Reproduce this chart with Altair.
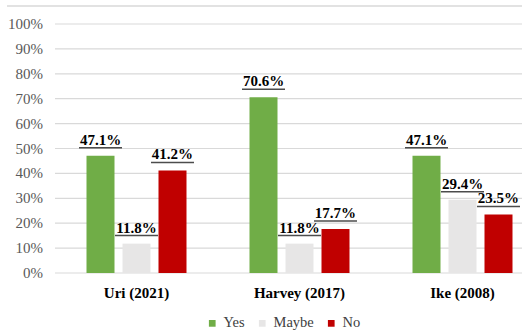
import altair as alt
import pandas as pd

categories = ["Uri (2021)", "Harvey (2017)", "Ike (2008)"]
series = ["Yes", "Maybe", "No"]
yes_vals = [47.1, 70.6, 47.1]
maybe_vals = [11.8, 11.8, 29.4]
no_vals = [41.2, 17.7, 23.5]
colors = ["#70AD47", "#E7E6E6", "#C00000"]
y_ticks = [0, 0.1, 0.2, 0.3, 0.4, 0.5, 0.6, 0.7, 0.8, 0.9, 1.0]
y_tick_labels = ["0%", "10%", "20%", "30%", "40%", "50%", "60%", "70%", "80%", "90%", "100%"]

rows = []
for i, c in enumerate(categories):
    for s, vals in zip(series, [yes_vals, maybe_vals, no_vals]):
        rows.append({"event": c, "answer": s, "value": vals[i] / 100.0,
                     "label": f"{vals[i]:.1f}%"})
df = pd.DataFrame(rows)
ticks_df = pd.DataFrame({"t": y_ticks, "tl": y_tick_labels})

FONT = "Liberation Serif, Times New Roman, serif"
W, H = 467, 249

x_enc = alt.X("event:N", sort=categories, title=None,
              scale=alt.Scale(range=[0, 489], paddingInner=0, paddingOuter=0),
              axis=alt.Axis(labelAngle=0, labelFont=FONT, labelFontSize=15,
                            labelFontWeight="bold", labelColor="#000000",
                            labelPadding=12, ticks=False, domain=False, grid=False))
xo_enc = alt.XOffset("answer:N", sort=series,
                     scale=alt.Scale(domain=series, paddingInner=0.2222, paddingOuter=0.875))
y_enc = alt.Y("value:Q", title=None, axis=None,
              scale=alt.Scale(domain=[0, 1], nice=False))

grid = alt.Chart(ticks_df).mark_rule(color="#D9D9D9", strokeWidth=1.2).encode(
    y=alt.Y("t:Q", axis=None), x=alt.value(0), x2=alt.value(W))

ylabels = alt.Chart(ticks_df).mark_text(
    font=FONT, fontSize=15, color="#595959", align="right", baseline="middle").encode(
    y=alt.Y("t:Q", axis=None), x=alt.value(-12), text="tl:N")

base = alt.Chart(df)

bars = base.mark_bar(size=28).encode(
    x=x_enc, xOffset=xo_enc, y=y_enc,
    color=alt.Color("answer:N", sort=series,
                    scale=alt.Scale(domain=series, range=colors),
                    legend=alt.Legend(title=None, orient="none", direction="horizontal",
                                      legendX=150, legendY=292, symbolType="square",
                                      symbolSize=45, symbolStrokeWidth=0,
                                      labelFont=FONT, labelFontSize=14.5,
                                      labelColor="#404040", labelOffset=4,
                                      columnPadding=10, padding=0)),
)

labels = base.mark_text(font=FONT, fontSize=15, fontWeight="bold", color="#000000",
                        baseline="alphabetic", dy=-11).encode(
    x=x_enc, xOffset=xo_enc, y=y_enc, text="label:N")

underline = base.mark_tick(orient="horizontal", size=43, thickness=1.5,
                           color="#000000", yOffset=-8).encode(
    x=x_enc, xOffset=xo_enc, y=y_enc)

border = alt.Chart(pd.DataFrame({"a": [0]})).mark_rule(color="#D9D9D9", strokeWidth=1.5).encode(
    x=alt.value(-48), x2=alt.value(W), y=alt.datum(1.0725))

chart = alt.layer(grid, ylabels, bars, underline, labels, border).properties(
    width=W, height=H,
    padding={"left": 55, "top": 24, "right": 0, "bottom": 62},
    autosize=alt.AutoSizeParams(type="none"),
).configure(
    background="#FFFFFF", font=FONT,
    view=alt.ViewConfig(stroke=None),
)

chart.save("out.html", embed_options={"renderer": "svg", "actions": False})
